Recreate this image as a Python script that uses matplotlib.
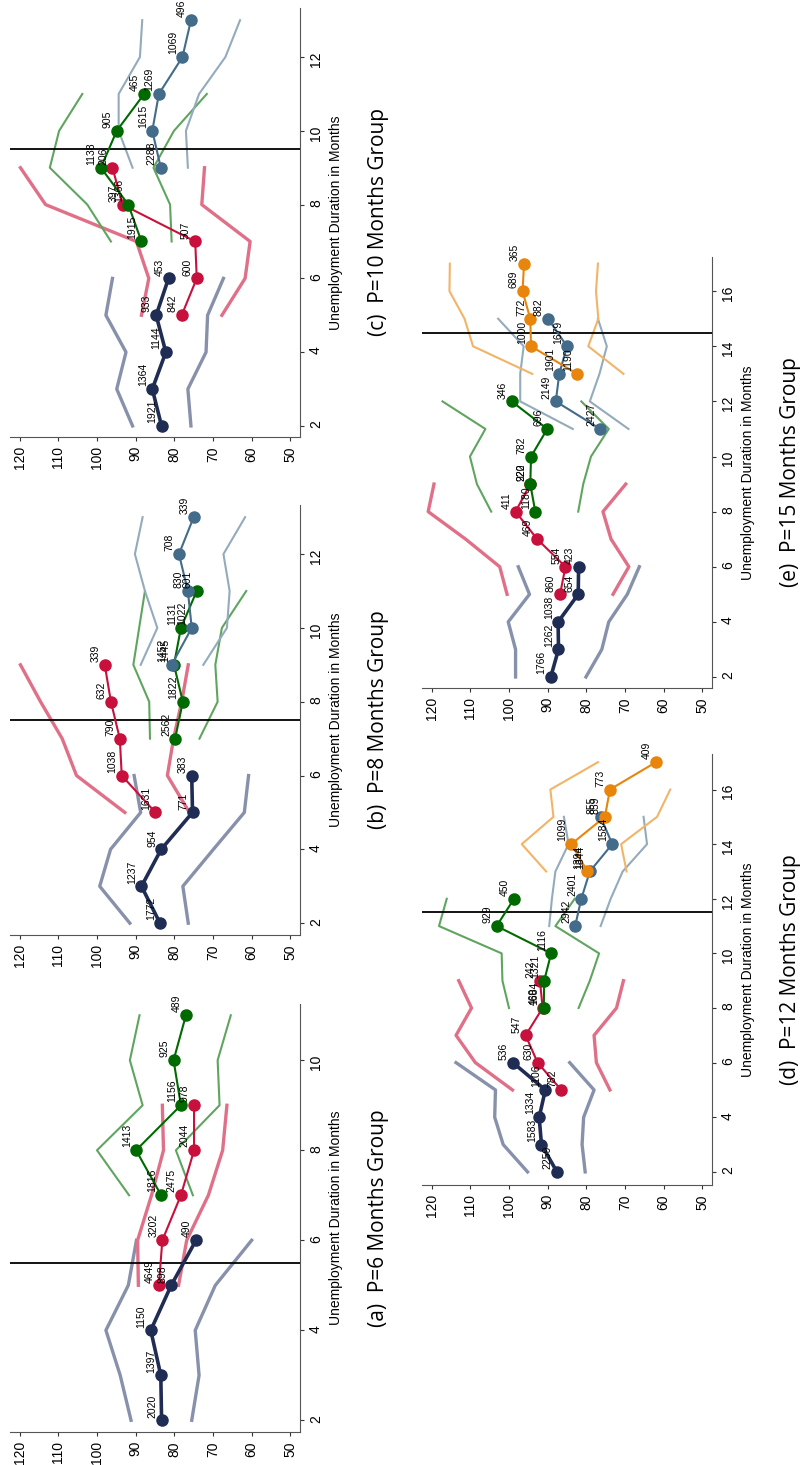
import numpy as np
import matplotlib
matplotlib.use("Agg")
import matplotlib.pyplot as plt

nan = np.nan

# colours: main line, ci line
COLS = {
    "navy": ("#1f2d55", "#8891ab"),
    "red": ("#c8103c", "#e07088"),
    "green": ("#006a00", "#5fa55f"),
    "steel": ("#436b8a", "#93abbd"),
    "orange": ("#e8850c", "#f2b468"),
}
LW = {"navy": (2.6, 2.4), "red": (1.5, 2.4), "green": (1.5, 1.5),
      "steel": (1.5, 1.5), "orange": (1.5, 1.5)}

# ---- panel (a) P=6 ----
a_navy_x = [2, 3, 4, 5, 6]
a_navy = [83.3, 83.5, 86.1, 80.8, 74.4]
a_navy_hi = [91.2, 94.0, 97.7, 91.9, 89.8]
a_navy_lo = [75.5, 73.6, 74.6, 69.4, 60.0]
a_navy_n = ["2020", "1397", "1150", "898", "490"]
a_red_x = [5, 6, 7, 8, 9]
a_red = [84.0, 83.1, 78.3, 74.9, 74.9]
a_red_hi = [89.3, 89.5, 85.9, 82.8, 83.1]
a_red_lo = [78.9, 76.8, 71.2, 67.5, 66.4]
a_red_n = ["4649", "3202", "2475", "2044", "978"]
a_green_x = [7, 8, 9, 10, 11]
a_green = [83.4, 89.9, 78.3, 80.2, 77.0]
a_green_hi = [91.7, 100.0, 88.2, 91.5, 89.0]
a_green_lo = [75.2, 79.6, 68.3, 68.8, 65.4]
a_green_n = ["1816", "1413", "1156", "925", "489"]

# ---- panel (b) P=8 ----
b_navy_x = [2, 3, 4, 5, 6]
b_navy = [83.7, 88.5, 83.4, 75.3, 75.5]
b_navy_hi = [91.5, 99.3, 96.5, 88.7, 90.4]
b_navy_lo = [76.4, 77.8, 69.9, 61.9, 60.8]
b_navy_n = ["1772", "1237", "954", "771", "383"]
b_red_x = [5, 6, 7, 8, 9]
b_red = [84.9, 93.6, 94.1, 96.4, 98.0]
b_red_hi = [92.8, 105.3, 109.0, 114.6, 119.8]
b_red_lo = [76.1, 81.8, 80.2, 78.1, 76.4]
b_red_n = ["1631", "1038", "790", "632", "339"]
b_green_x = [7, 8, 9, 10, 11]
b_green = [79.8, 77.8, 80.1, 78.3, 74.2]
b_green_hi = [86.3, 86.5, 90.6, 89.1, 87.6]
b_green_lo = [73.5, 68.8, 69.4, 67.7, 61.4]
b_green_n = ["2562", "1822", "1445", "1131", "601"]
b_steel_x = [9, 10, 11, 12, 13]
b_steel = [80.7, 75.5, 76.5, 78.8, 75.0]
b_steel_hi = [88.7, 84.4, 87.6, 90.2, 88.2]
b_steel_lo = [72.5, 66.4, 65.7, 67.3, 61.7]
b_steel_n = ["1452", "1022", "830", "708", "339"]

# ---- panel (c) P=10 ----
c_navy_x = [2, 3, 4, 5, 6]
c_navy = [83.3, 85.7, 82.2, 84.7, 81.5]
c_navy_hi = [90.8, 94.9, 92.5, 97.7, 96.0]
c_navy_lo = [75.7, 76.5, 71.8, 71.4, 67.3]
c_navy_n = ["1921", "1364", "1144", "933", "453"]
c_red_x = [5, 6, 7, 8, 9]
c_red = [78.1, 74.2, 74.6, 93.4, 96.0]
c_red_hi = [88.5, 86.6, 89.8, 113.3, 119.8]
c_red_lo = [67.7, 61.7, 60.4, 72.9, 72.2]
c_red_n = ["842", "600", "507", "397", "206"]
c_green_x = [7, 8, 9, 10, 11]
c_green = [88.5, 91.9, 99.0, 94.9, 87.8]
c_green_hi = [96.4, 102.5, 112.2, 109.8, 103.8]
c_green_lo = [80.7, 81.1, 85.4, 80.1, 71.6]
c_green_n = ["1915", "1366", "1138", "905", "465"]
c_steel_x = [9, 10, 11, 12, 13]
c_steel = [83.5, 85.7, 84.0, 77.9, 75.7]
c_steel_hi = [90.8, 94.4, 94.4, 88.9, 88.3]
c_steel_lo = [76.5, 77.0, 73.6, 66.8, 63.0]
c_steel_n = ["2288", "1615", "1269", "1069", "496"]

# ---- panel (d) P=12 ----
d_navy_x = [2, 3, 4, 5, 6]
d_navy = [87.6, 91.6, 92.2, 90.6, 99.0]
d_navy_hi = [95.2, 101.5, 103.7, 103.5, 113.7]
d_navy_lo = [80.3, 81.1, 80.7, 78.0, 84.3]
d_navy_n = ["2259", "1583", "1334", "1106", "536"]
d_red_x = [5, 6, 7, 8, 9]
d_red = [86.5, 92.6, 95.7, 91.3, 92.0]
d_red_hi = [99.1, 108.7, 113.7, 109.7, 113.0]
d_red_lo = [73.9, 77.4, 78.0, 72.2, 70.4]
d_red_n = ["782", "630", "547", "460", "242"]
d_green_x = [8, 9, 10, 11, 12]
d_green = [91.0, 90.9, 89.1, 103.2, 98.7]
d_green_hi = [100.0, 101.7, 101.9, 118.1, 116.1]
d_green_lo = [82.0, 79.1, 76.7, 88.0, 83.0]
d_green_n = ["1684", "1321", "1116", "929", "450"]
d_steel_x = [11, 12, 13, 14, 15]
d_steel = [82.9, 81.3, 79.1, 73.3, 76.3]
d_steel_hi = [89.6, 88.9, 88.0, 84.6, 85.8]
d_steel_lo = [76.3, 73.7, 70.6, 64.3, 65.2]
d_steel_n = ["2942", "2401", "1844", "1584", "855"]
d_orange_x = [13, 14, 15, 16, 17]
d_orange = [79.7, 83.9, 75.2, 73.9, 62.0]
d_orange_hi = [90.4, 96.7, 88.5, 89.3, 77.0]
d_orange_lo = [69.6, 71.0, 61.7, 58.3, nan]
d_orange_n = ["1394", "1099", "859", "773", "409"]

# ---- panel (e) P=15 ----
e_navy_x = [2, 3, 4, 5, 6]
e_navy = [89.2, 87.2, 87.3, 82.1, 82.0]
e_navy_hi = [98.3, 98.3, 100.2, 94.7, 97.6]
e_navy_lo = [80.1, 76.0, 74.2, 69.4, 66.3]
e_navy_n = ["1766", "1262", "1038", "654", "423"]
e_red_x = [5, 6, 7, 8, 9]
e_red = [86.8, 85.4, 92.7, 98.3, 94.5]
e_red_hi = [100.5, 102.4, 111.2, 120.9, 119.4]
e_red_lo = [73.1, 69.0, 73.6, 75.7, 69.8]
e_red_n = ["860", "554", "469", "411", "220"]
e_green_x = [8, 9, 10, 11, 12]
e_green = [93.2, 94.5, 94.3, 90.1, 99.3]
e_green_hi = [104.6, 108.3, 110.1, 106.1, 117.2]
e_green_lo = [82.1, 80.8, 78.8, 74.2, 81.3]
e_green_n = ["1180", "922", "782", "696", "346"]
e_steel_x = [11, 12, 13, 14, 15]
e_steel = [76.4, 87.9, 87.0, 85.0, 89.9]
e_steel_hi = [83.5, 97.1, 97.1, 96.2, 102.8]
e_steel_lo = [69.1, 79.1, 76.6, 74.7, 77.0]
e_steel_n = ["2427", "2149", "1901", "1679", "882"]
e_orange_x = [13, 14, 15, 16, 17]
e_orange = [82.4, 94.3, 94.5, 96.5, 96.1]
e_orange_hi = [94.0, 109.3, 111.5, 115.4, 115.3]
e_orange_lo = [70.4, 79.5, 76.9, 77.5, 77.0]
e_orange_n = ["1190", "1000", "772", "689", "365"]

g = globals()
panels = [
    # key, groups, cutoff, duration ticks, ylim, axes rect in pixels (x0, y_top, x1, y_bottom), caption
    ("a", ["navy", "red", "green"], 5.5, range(2, 11, 2), (1.74, 11.25),
     (10, 1004, 300, 1432), "(a)  P=6 Months Group"),
    ("b", ["navy", "red", "green", "steel"], 7.5, range(2, 13, 2), (1.68, 13.33),
     (10, 505, 300, 935), "(b)  P=8 Months Group"),
    ("c", ["navy", "red", "green", "steel"], 9.5, range(2, 13, 2), (1.70, 13.33),
     (10, 8, 300, 437), "(c)  P=10 Months Group"),
    ("d", ["navy", "red", "green", "steel", "orange"], 11.5, range(2, 17, 2), (1.52, 17.3),
     (422, 754, 712, 1185), "(d)  P=12 Months Group"),
    ("e", ["navy", "red", "green", "steel", "orange"], 14.5, range(2, 17, 2), (1.6, 17.24),
     (422, 257, 712, 688), "(e)  P=15 Months Group"),
]

W, H = 800, 1465
fig = plt.figure(figsize=(W / 100, H / 100), dpi=100)

for key, groups, cut, dticks, ylim, (x0, yt, x1, yb), cap in panels:
    ax = fig.add_axes([x0 / W, 1 - yb / H, (x1 - x0) / W, (yb - yt) / H])
    for grp in groups:
        p = f"{key}_{grp}"
        dx = g[p + "_x"]
        mc, cc = COLS[grp]
        lw_m, lw_c = LW[grp]
        ax.plot(g[p + "_hi"], dx, color=cc, lw=lw_c, zorder=2)
        ax.plot(g[p + "_lo"], dx, color=cc, lw=lw_c, zorder=2)
        ax.plot(g[p], dx, color=mc, lw=lw_m, marker="o", ms=8, zorder=4)
        for v, d, n in zip(g[p], dx, g[p + "_n"]):
            ax.annotate(n, (v, d), xytext=(-3, 2), textcoords="offset points",
                        rotation=90, ha="right", va="bottom", fontsize=7.5,
                        family="Liberation Sans", zorder=5)
    ax.axhline(cut, color="black", lw=1.3, zorder=3)
    ax.set_xlim(122.5, 47.5)
    ax.set_ylim(*ylim)
    ax.set_xticks(range(50, 121, 10))
    ax.set_yticks(list(dticks))
    ax.yaxis.tick_right()
    ax.yaxis.set_label_position("right")
    for s in ("top", "left"):
        ax.spines[s].set_visible(False)
    for s in ("bottom", "right"):
        ax.spines[s].set_color("#555555")
    ax.tick_params(axis="both", labelsize=10, colors="#333333", length=3)
    for t in ax.get_xticklabels() + ax.get_yticklabels():
        t.set_rotation(90)
        t.set_family("Liberation Sans")
        t.set_color("black")
    ax.set_ylabel("Unemployment Duration in Months", rotation=90, fontsize=10,
                  family="Liberation Sans", labelpad=4)
    ax.text(1.0 + 68 / (x1 - x0), 0.5, cap, rotation=90, transform=ax.transAxes,
            ha="left", va="center", fontsize=15, family="Open Sans")

fig.savefig("out.png", dpi=100)
